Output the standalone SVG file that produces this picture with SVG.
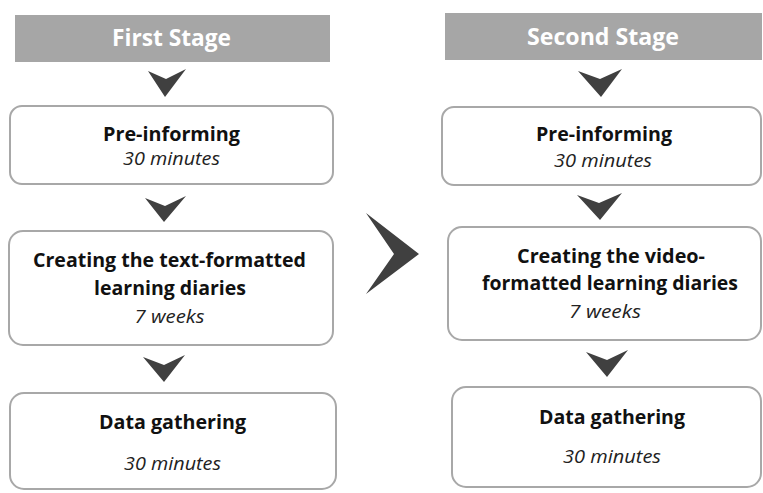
<svg xmlns="http://www.w3.org/2000/svg" width="763" height="493" viewBox="0 0 763 493">
<style>
.hdr{fill:#a6a6a6}
.ht{fill:#ffffff;font-family:"Open Sans","Liberation Sans",sans-serif;font-weight:bold;font-size:22.5px;text-anchor:middle}
.box{fill:#ffffff;stroke:#a8a8a8;stroke-width:2}
.t{fill:#111111;font-family:"Open Sans","Liberation Sans",sans-serif;font-weight:bold;font-size:19.5px;text-anchor:middle}
.s{fill:#222222;font-family:"Open Sans","Liberation Sans",sans-serif;font-style:italic;font-size:17.5px;text-anchor:middle}
.arr{fill:#404040}
</style>
<rect width="763" height="493" fill="#ffffff"/>
<g id="first-stage">
<rect class="hdr" x="15" y="15" width="315" height="47"/>
<text class="ht" x="171.5" y="46" textLength="119" lengthAdjust="spacingAndGlyphs">First Stage</text>
</g>
<g id="second-stage">
<rect class="hdr" x="445" y="13" width="317" height="47"/>
<text class="ht" x="603" y="45" textLength="152" lengthAdjust="spacingAndGlyphs">Second Stage</text>
</g>
<g id="l-pre">
<rect class="box" x="10" y="106" width="323" height="78" rx="12"/>
<text class="t" x="171.5" y="141" textLength="137" lengthAdjust="spacingAndGlyphs">Pre-informing</text>
<text class="s" x="171.5" y="165" textLength="97" lengthAdjust="spacingAndGlyphs">30 minutes</text>
</g>
<g id="l-create">
<rect class="box" x="9" y="231" width="324" height="114" rx="14"/>
<text class="t" x="169.5" y="267" textLength="273" lengthAdjust="spacingAndGlyphs">Creating the text-formatted</text>
<text class="t" x="170" y="295" textLength="152" lengthAdjust="spacingAndGlyphs">learning diaries</text>
<text class="s" x="169.5" y="323" textLength="70" lengthAdjust="spacingAndGlyphs">7 weeks</text>
</g>
<g id="l-data">
<rect class="box" x="10" y="393" width="326" height="96" rx="14"/>
<text class="t" x="172.5" y="429" textLength="147" lengthAdjust="spacingAndGlyphs">Data gathering</text>
<text class="s" x="172.5" y="470" textLength="97" lengthAdjust="spacingAndGlyphs">30 minutes</text>
</g>
<g id="r-pre">
<rect class="box" x="442" y="107" width="319" height="78" rx="12"/>
<text class="t" x="604" y="141" textLength="136" lengthAdjust="spacingAndGlyphs">Pre-informing</text>
<text class="s" x="603" y="167" textLength="98" lengthAdjust="spacingAndGlyphs">30 minutes</text>
</g>
<g id="r-create">
<rect class="box" x="448" y="227" width="313" height="113" rx="14"/>
<text class="t" x="611" y="263" textLength="188" lengthAdjust="spacingAndGlyphs">Creating the video-</text>
<text class="t" x="610" y="290" textLength="256" lengthAdjust="spacingAndGlyphs">formatted learning diaries</text>
<text class="s" x="605" y="318" textLength="72" lengthAdjust="spacingAndGlyphs">7 weeks</text>
</g>
<g id="r-data">
<rect class="box" x="452" y="387" width="309" height="100" rx="14"/>
<text class="t" x="612" y="424" textLength="146" lengthAdjust="spacingAndGlyphs">Data gathering</text>
<text class="s" x="612" y="463" textLength="98" lengthAdjust="spacingAndGlyphs">30 minutes</text>
</g>
<g id="connectors">
<path class="arr" d="M148,71 L166,79 L186,69 L165,97 Z"/>
<path class="arr" d="M145,198 L165,206 L186,196 L164,222 Z"/>
<path class="arr" d="M143,357 L164,365 L185,355 L164,382 Z"/>
<path class="arr" d="M366,213 L394,254 L366,294 L419,254 Z"/>
<path class="arr" d="M578,71 L600,79 L622,69 L601,97 Z"/>
<path class="arr" d="M577,195 L599,203 L622,193 L600,220 Z"/>
<path class="arr" d="M586,352 L607,360 L628,350 L607,377 Z"/>
</g>
</svg>
